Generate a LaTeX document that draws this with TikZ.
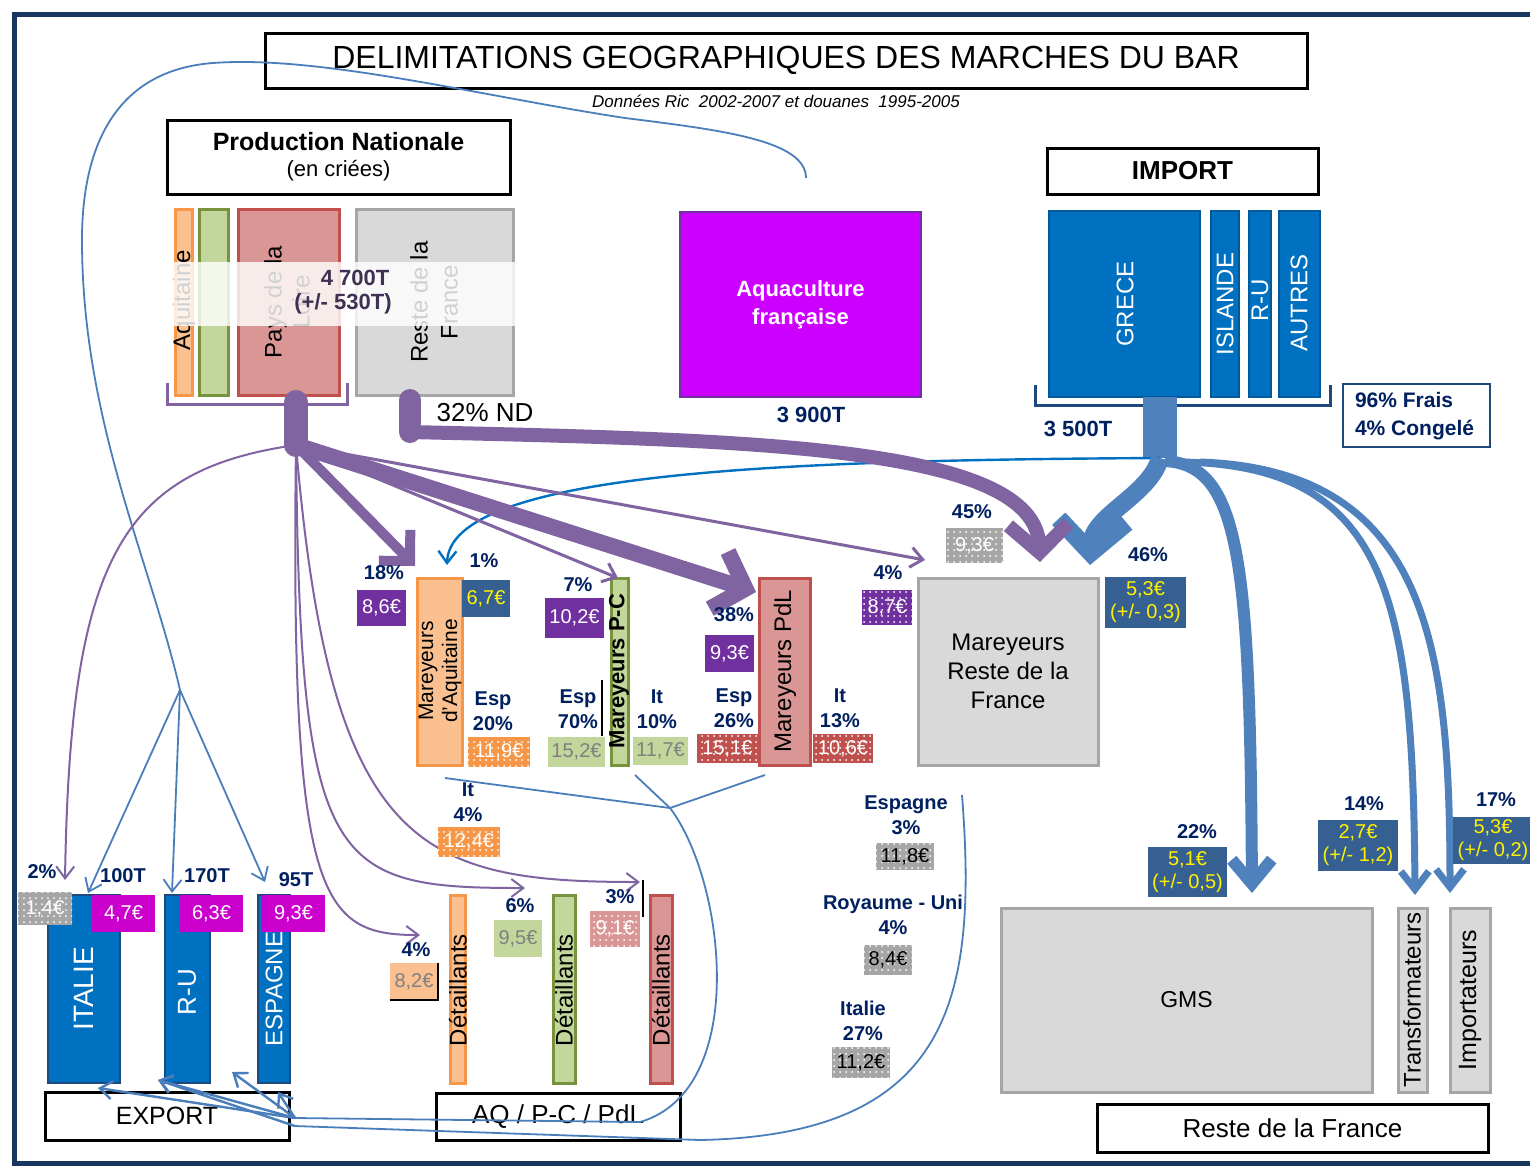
\documentclass[tikz,border=0pt]{standalone}
\usepackage{fontspec}
\setmainfont{Liberation Sans}
\usetikzlibrary{arrows.meta,patterns,calc}
\definecolor{navy}{HTML}{002060}
\definecolor{framec}{HTML}{17375E}
\definecolor{purp}{HTML}{8064A2}
\definecolor{pbox}{HTML}{7030A0}
\definecolor{mag}{HTML}{CC00CC}
\definecolor{aqua}{HTML}{CC00FF}
\definecolor{bbar}{HTML}{0070C0}
\definecolor{bboxc}{HTML}{376092}
\definecolor{bline}{HTML}{4F81BD}
\definecolor{tline}{HTML}{4A7EBB}
\definecolor{ofill}{HTML}{FAC090}
\definecolor{oline}{HTML}{F79646}
\definecolor{gfill}{HTML}{C3D69B}
\definecolor{gline}{HTML}{77933C}
\definecolor{rfill}{HTML}{D99694}
\definecolor{rline}{HTML}{C0504D}
\definecolor{grfill}{HTML}{D9D9D9}
\definecolor{grline}{HTML}{A6A6A6}
\definecolor{bnav}{HTML}{1F497D}
\definecolor{bandtxt}{HTML}{3F3151}
\newcommand\fs[2]{\fontsize{#1}{#2}\selectfont}
\newcommand\bx[7]{\node[#6,minimum width={(#4-#2)*0.5pt},minimum height={(#5-#3)*0.5pt}] (#1) at ({(#2+#4)/2},{(#3+#5)/2}) {#7};}
\tikzset{
  base/.style={inner sep=0pt,outer sep=0pt,align=center},
  tbox/.style={base,draw=black,line width=1.5pt,fill=white},
  pct/.style={base,font=\bfseries\fs{10}{12.5},text=navy},
  ppr/.style={base,fill=pbox,text=white,font=\fs{10}{11}},
  mpr/.style={base,fill=mag,text=white,font=\fs{10}{11}},
  bpr/.style={base,fill=bboxc,text=yellow,font=\fs{10}{11.5}},
  gpr/.style={base,fill=grline,text=white,font=\fs{10}{11}},
  gprb/.style={base,fill=grline,text=black,font=\fs{10}{11}},
  gprg/.style={base,fill=gfill,text=gray,font=\fs{10}{11}},
  opr/.style={base,fill=oline,text=white,font=\fs{10}{11}},
  oprl/.style={base,fill=ofill,text=gray,font=\fs{10}{11}},
  rpr/.style={base,fill=rline,text=white,font=\fs{10}{11}},
  rprl/.style={base,fill=rfill,text=white,font=\fs{10}{11}},
  dotfill/.style={postaction={pattern=dots,pattern color=white}},
  obar/.style={base,fill=ofill,draw=oline,line width=1.5pt},
  gbar/.style={base,fill=gfill,draw=gline,line width=1.5pt},
  rbar/.style={base,fill=rfill,draw=rline,line width=1.5pt},
  grbar/.style={base,fill=grfill,draw=grline,line width=1.5pt},
  ibar/.style={base,fill=bbar,draw=bbar!80!black,line width=0.6pt},
  ebar/.style={base,fill=bbar,draw=bnav,line width=1pt},
  rot/.style={base,rotate=90},
  parr/.style={draw=purp,line cap=round},
  barr/.style={draw=bline},
  tarr/.style={draw=tline,line width=0.9pt},
}
\begin{document}
\begin{tikzpicture}[x=0.5pt,y=-0.5pt]
\useasboundingbox (0,0) rectangle (1530,1168);
\fill[white] (0,0) rectangle (1530,1168);
\draw[framec,line width=2.5pt] (14,14) rectangle (1580,1163);

% ---------- titles ----------
\bx{title}{265}{33}{1307}{88}{tbox}{\fs{16}{18}DELIMITATIONS GEOGRAPHIQUES DES MARCHES DU BAR}
\node[base,font=\itshape\fs{8.5}{10}] (sub) at (776,101) {Données Ric\ \ 2002-2007 et douanes\ \ 1995-2005};
\bx{prod}{167}{120}{510}{194}{tbox}{{\bfseries\fs{12.5}{15}Production Nationale}\\[1pt]{\fs{11}{13}(en criées)}}

% ---------- production bars ----------
\bx{aqp}{175}{209}{192}{395}{obar}{}
\bx{pcp}{199}{209}{228}{395}{gbar}{}
\bx{pdlp}{238}{209}{339}{395}{rbar}{}
\bx{rfp}{356}{209}{513}{395}{grbar}{}
\node[rot,font=\fs{12}{14}] (aqpt) at (184,300) {Aquitaine};
\node[rot,font=\fs{12}{14}] (pdlpt) at (287,302) {Pays de la\\Loire};
\node[rot,font=\fs{12}{15}] (rfpt) at (434,302) {Reste de la\\France};
\fill[white,opacity=0.82] (170,262) rectangle (517,326);
\node[base,font=\bfseries\fs{11}{13},text=bandtxt] (tot1) at (355,278) {4 700T};
\node[base,font=\bfseries\fs{11}{13},text=bandtxt] (tot2) at (343,304) {(+/- 530T)};
\draw[purp,line width=1.5pt] (167,383) -- (167,404) -- (347,404) -- (347,383);
\node[base,font=\fs{13}{15}] (nd) at (485,413) {32\% ND};

% ---------- aquaculture ----------
\bx{aqc}{680}{212}{921}{397}{base,fill=aqua,draw=pbox,line width=1pt,text=white,font=\bfseries\fs{11}{14}}{Aquaculture\\française}
\node[pct,font=\bfseries\fs{11}{13}] (t39) at (811,415) {3 900T};

% ---------- import ----------
\bx{impt}{1047}{148}{1318}{194}{tbox,font=\bfseries\fs{13}{15}}{IMPORT}
\bx{gre}{1049}{211}{1200}{397}{ibar}{}
\bx{isl}{1211}{211}{1239}{397}{ibar}{}
\bx{rui}{1249}{211}{1271}{397}{ibar}{}
\bx{aut}{1279}{211}{1320}{397}{ibar}{}
\node[rot,text=white,font=\fs{12}{14}] (gret) at (1125,304) {GRECE};
\node[rot,text=white,font=\fs{12}{14}] (islt) at (1225,304) {ISLANDE};
\node[rot,text=white,font=\fs{12}{14}] (ruit) at (1260,300) {R-U};
\node[rot,text=white,font=\fs{12}{14}] (autt) at (1299,303) {AUTRES};
\draw[bnav,line width=1.5pt] (1035,385) -- (1035,405) -- (1330,405) -- (1330,385);
\node[pct,font=\bfseries\fs{11}{13}] (t35) at (1078,429) {3 500T};
\bx{frz}{1343}{384}{1490}{447}{base,draw=bnav,line width=1pt,fill=white}{}
\node[base,anchor=west,align=left,font=\bfseries\fs{10.5}{14},text=navy] (frzt) at (1355,416) {96\% Frais\\4\% Congelé};

% ---------- mareyeurs ----------
\bx{maq}{417}{578}{462}{765}{obar}{}
\node[rot,font=\fs{10.5}{12}] (maqt) at (440,671) {Mareyeurs\\d'Aquitaine};
\bx{mpc}{611}{578}{628}{765}{gbar}{}
\node[rot,font=\bfseries\fs{11}{13}] (mpct) at (619,671) {Mareyeurs P-C};
\bx{mpdl}{759}{578}{810}{765}{rbar}{}
\node[rot,font=\fs{12}{14}] (mpdlt) at (785,671) {Mareyeurs PdL};
\bx{mrf}{918}{578}{1098}{765}{grbar,font=\fs{12}{14.5}}{Mareyeurs\\Reste de la\\France}

% ---------- detaillants ----------
\bx{dao}{450}{895}{465}{1083}{obar}{}
\bx{dpc}{553}{895}{575}{1083}{gbar}{}
\bx{dpdl}{650}{895}{672}{1083}{rbar}{}
\node[rot,font=\fs{12}{14}] (daot) at (458,990) {Détaillants};
\node[rot,font=\fs{12}{14}] (dpct) at (564,990) {Détaillants};
\node[rot,font=\fs{12}{14}] (dpdlt) at (661,990) {Détaillants};
\bx{aqb}{436}{1093}{680}{1140}{tbox,font=\fs{13}{15}}{AQ / P-C / PdL}

% ---------- export ----------
\bx{ital}{48}{895}{120}{1083}{ebar}{}
\bx{rue}{165}{895}{210}{1083}{ebar}{}
\bx{espe}{258}{895}{290}{1083}{ebar}{}
\node[rot,text=white,font=\fs{14}{16}] (italt) at (84,989) {ITALIE};
\node[rot,text=white,font=\fs{13}{15}] (ruet) at (187,992) {R-U};
\node[rot,text=white,font=\fs{12}{14}] (espet) at (274,989) {ESPAGNE};
\bx{expb}{45}{1092}{289}{1140}{tbox,font=\fs{12.5}{15}}{EXPORT}

% ---------- reste de la France ----------
\bx{gms}{1001}{908}{1372}{1092}{grbar,font=\fs{11.5}{14}}{GMS}
\bx{trf}{1398}{908}{1427}{1092}{grbar}{}
\bx{imp}{1450}{908}{1490}{1092}{grbar}{}
\node[rot,font=\fs{12}{14}] (trft) at (1412,1000) {Transformateurs};
\node[rot,font=\fs{12.5}{14}] (impt2) at (1470,1000) {Importateurs};
\bx{rdf}{1097}{1104}{1488}{1152}{tbox,font=\fs{13}{15}}{Reste de la France}

% ---------- connectors: blue thin ----------
\coordinate (aqs) at (806,178);
\coordinate (lp1) at (625,118);
\coordinate (lp2) at (213,63);
\coordinate (lp3) at (82,240);
\coordinate (sp) at (180,690);
\draw[tarr] (aqs) .. controls (806,140) and (720,130) .. (lp1)
  .. controls (480,96) and (320,55) .. (lp2)
  .. controls (120,70) and (82,140) .. (lp3)
  .. controls (82,420) and (150,560) .. (sp);
\coordinate (eit) at (88,893);
\coordinate (eru) at (172,893);
\coordinate (ees) at (265,882);
\foreach \t in {eit,eru,ees}
  \draw[tarr,-{Straight Barb[length=6pt,width=9pt]}] (sp) -- (\t);

\coordinate (vp) at (670,808);
\coordinate (va) at (445,778);
\coordinate (vb) at (765,775);
\coordinate (vc) at (635,775);
\coordinate (rv) at (962,795);
\coordinate (ex1) at (295,1118);
\coordinate (ex2) at (295,1126);
\draw[tarr] (va) -- (vp) -- (vb);
\draw[tarr] (vc) -- (vp);
\draw[tarr] (vp) .. controls (725,880) and (750,1090) .. (640,1122) -- (ex1);
\draw[tarr] (rv) .. controls (978,1000) and (950,1135) .. (700,1140) -- (ex2);
\coordinate (xa) at (98,1088);
\coordinate (xb) at (158,1080);
\coordinate (xc) at (232,1072);
\coordinate (xd) at (278,1092);
\foreach \t in {xa,xb,xc,xd}
  \draw[tarr,line width=1.2pt,-{Straight Barb[length=6pt,width=9pt]}] (ex1) -- (\t);
\draw[tarr,line width=1.2pt,-{Straight Barb[length=6pt,width=9pt]}] (ex2) -- (xb);

% ---------- connectors: import ----------
\coordinate (is1) at (1160,397);
\coordinate (ih) at (1160,458);
\coordinate (i1) at (447,565);
\coordinate (imr) at (1090,565);
\coordinate (igms) at (1252,893);
\coordinate (itrf) at (1415,895);
\coordinate (iimp) at (1450,893);
\draw[barr,line width=17pt] (is1) -- (ih);
\draw[draw=bbar,line width=1.2pt,-{Straight Barb[length=6pt,width=9pt]}] (ih) .. controls (800,460) and (450,470) .. (i1);
\draw[barr,line width=9pt,-{Straight Barb[length=16pt,width=34pt]}] (ih) .. controls (1150,495) and (1093,515) .. (imr);
\draw[barr,line width=6pt,-{Straight Barb[length=12pt,width=20pt]}] ($(ih)+(5,3)$) .. controls (1240,465) and (1250,560) .. (igms);
\draw[barr,line width=3.5pt,-{Straight Barb[length=9pt,width=14pt]}] ($(ih)+(20,4)$) .. controls (1390,465) and (1413,600) .. (itrf);
\draw[barr,line width=3.5pt,-{Straight Barb[length=9pt,width=14pt]}] ($(ih)+(40,4)$) .. controls (1430,470) and (1450,650) .. (iimp);

% ---------- connectors: purple ----------
\coordinate (ps0) at (296,402);
\coordinate (ps) at (296,445);
\coordinate (gs0) at (410,400);
\coordinate (gs) at (410,432);
\draw[parr,line width=12pt] (ps0) -- (ps);
\draw[parr,line width=11pt] (gs0) -- (gs);
\coordinate (a18) at (415,566);
\coordinate (a7) at (618,578);
\coordinate (a38) at (756,592);
\coordinate (a4) at (925,560);
\coordinate (a45) at (1040,562);
\coordinate (a2) at (65,880);
\coordinate (d4a) at (420,935);
\coordinate (d6a) at (525,888);
\coordinate (d3a) at (640,882);
\draw[parr,line width=7pt,-{Straight Barb[length=14pt,width=30pt]}] (gs) .. controls (750,440) and (1035,445) .. (a45);
\draw[parr,line width=5pt,-{Straight Barb[length=11pt,width=22pt]}] (ps) -- (a18);
\draw[parr,line width=1.5pt,-{Straight Barb[length=6pt,width=10pt]}] (ps) -- (a7);
\draw[parr,line width=8pt,-{Straight Barb[length=14pt,width=30pt]}] (ps) -- (a38);
\draw[parr,line width=1.5pt,-{Straight Barb[length=6pt,width=10pt]}] (ps) -- (a4);
\draw[parr,line width=1pt,-{Straight Barb[length=6pt,width=9pt]}] (ps) .. controls (120,470) and (70,560) .. (a2);
\draw[parr,line width=1pt,-{Straight Barb[length=6pt,width=9pt]}] (ps) .. controls (290,900) and (320,935) .. (d4a);
\draw[parr,line width=1pt,-{Straight Barb[length=6pt,width=9pt]}] (ps) .. controls (300,870) and (330,888) .. (d6a);
\draw[parr,line width=1pt,-{Straight Barb[length=6pt,width=9pt]}] (ps) .. controls (330,850) and (420,882) .. (d3a);

% ---------- labels and prices ----------
\node[pct] (l18) at (384,573) {18\%};
\bx{p86}{357}{590}{406}{626}{ppr}{8,6€}
\node[pct] (l1) at (484,561) {1\%};
\bx{p67}{462}{580}{510}{617}{bpr}{6,7€}
\node[pct] (l7) at (578,585) {7\%};
\bx{p102}{545}{598}{604}{638}{ppr}{10,2€}
\node[pct] (l38) at (734,615) {38\%};
\bx{p93}{705}{635}{754}{672}{ppr}{9,3€}
\node[pct] (l4a) at (888,573) {4\%};
\bx{p87}{862}{590}{912}{625}{ppr,dotfill}{8,7€}
\node[pct] (l45) at (972,512) {45\%};
\bx{p45}{946}{528}{1003}{563}{gpr,dotfill}{9,3€}
\node[pct] (l46) at (1148,555) {46\%};
\bx{p53}{1105}{577}{1186}{628}{bpr}{5,3€\\(+/- 0,3)}

\node[pct] (e20) at (493,711) {Esp\\20\%};
\bx{p119}{468}{737}{530}{767}{opr,dotfill}{11,9€}
\node[pct] (e70) at (578,709) {Esp\\70\%};
\bx{p152}{548}{737}{605}{767}{gprg}{15,2€}
\node[pct] (i10) at (657,709) {It\\10\%};
\bx{p117}{633}{737}{688}{765}{gprg}{11,7€}
\node[pct] (e26) at (734,708) {Esp\\26\%};
\bx{p151}{697}{734}{758}{763}{rpr,dotfill}{15,1€}
\node[pct] (i13) at (840,708) {It\\13\%};
\bx{p106}{813}{734}{873}{763}{rpr,dotfill}{10,6€}
\node[pct] (i4) at (468,802) {It\\4\%};
\bx{p124}{438}{827}{500}{857}{opr,dotfill}{12,4€}
\coordinate (bl1) at (602,680);
\coordinate (bl2) at (602,736);
\draw[black,line width=0.8pt] (bl1) -- (bl2);

\node[pct] (d4) at (416,950) {4\%};
\bx{p82}{390}{963}{438}{1000}{oprl}{8,2€}
\draw[black,line width=1pt] (p82.south west) -- (p82.south east) -- (p82.north east);
\node[pct] (d6) at (520,906) {6\%};
\bx{p95}{494}{920}{542}{957}{gprg}{9,5€}
\node[pct] (d3) at (620,897) {3\%};
\bx{p91}{590}{911}{640}{947}{rprl,dotfill}{9,1€}
\coordinate (bl3) at (643,880);
\coordinate (bl4) at (643,917);
\draw[black,line width=0.8pt] (bl3) -- (bl4);

\node[pct] (es) at (906,815) {Espagne\\3\%};
\bx{p118}{876}{843}{934}{870}{gprb,dotfill}{11,8€}
\node[pct] (ru) at (893,915) {Royaume - Uni\\4\%};
\bx{p84}{864}{945}{912}{975}{gprb,dotfill}{8,4€}
\node[pct] (it) at (863,1021) {Italie\\27\%};
\bx{p112}{832}{1047}{890}{1078}{gprb,dotfill}{11,2€}

\node[pct] (x2) at (42,872) {2\%};
\bx{p14}{18}{892}{72}{925}{gpr,dotfill}{1,4€}
\node[pct] (x100) at (123,876) {100T};
\bx{p47}{92}{895}{155}{932}{mpr}{4,7€}
\node[pct] (x170) at (207,876) {170T};
\bx{p63}{180}{895}{243}{932}{mpr}{6,3€}
\node[pct] (x95) at (296,880) {95T};
\bx{p93e}{262}{895}{325}{932}{mpr}{9,3€}

\node[pct] (g22) at (1197,832) {22\%};
\bx{p51}{1148}{847}{1227}{897}{bpr}{5,1€\\(+/- 0,5)}
\node[pct] (g14) at (1364,804) {14\%};
\bx{p27}{1318}{820}{1398}{871}{bpr}{2,7€\\(+/- 1,2)}
\node[pct] (g17) at (1496,800) {17\%};
\bx{p53b}{1453}{817}{1533}{864}{bpr}{5,3€\\(+/- 0,2)}
\end{tikzpicture}
\end{document}
